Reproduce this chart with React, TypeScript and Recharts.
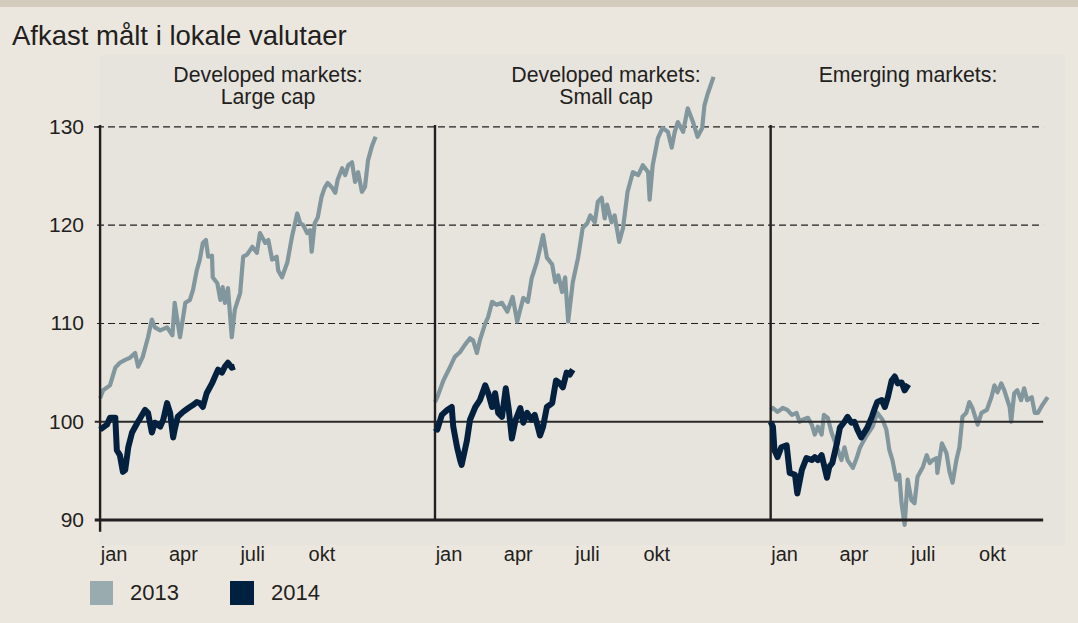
import { LineChart, Line, XAxis, YAxis, ReferenceLine } from 'recharts';

// [day of year, index value]
const largeCap2013: [number, number][] = [
  [0, 102.4], [4, 103.2], [13, 103.7], [20, 105.5], [26, 106], [33, 106.3], [39, 106.5], [46, 107], [50, 105.6], [56, 106.6],
  [63, 108.6], [68, 110.4], [72, 109.6], [79, 109.3], [88, 109.6], [95, 108.8], [98, 112.1], [105, 108.6], [112, 112.1], [118, 112.4],
  [122, 113.4], [127, 115.4], [131, 116.5], [135, 118.2], [139, 118.5], [142, 116.8], [147, 116.9], [148, 114.7], [154, 114.1], [158, 112.4],
  [161, 113.7], [164, 112.1], [168, 113.6], [173, 108.6], [177, 111.4], [184, 113.1], [188, 116.8], [193, 117], [200, 117.8], [206, 117.2],
  [210, 119.2], [217, 118.2], [221, 118.5], [226, 116.5], [232, 116.8], [234, 115.4], [239, 114.7], [246, 116.2], [252, 118.8], [259, 121.2],
  [263, 120.2], [267, 120], [272, 119.2], [276, 119.5], [278, 117.3], [282, 120.2], [286, 120.8], [291, 122.9], [295, 123.8], [299, 124.3],
  [305, 123.8], [309, 123.3], [312, 124.6], [318, 125.8], [322, 125.1], [326, 126.1], [331, 126.4], [335, 124.4], [339, 125.4], [344, 123.4],
  [348, 123.9], [352, 126.6], [357, 128], [362, 129],
];

const largeCap2014: [number, number][] = [
  [0, 99.2], [9, 99.7], [13, 100.4], [20, 100.4], [22, 97.1], [26, 96.6], [30, 94.9], [33, 95.1], [37, 97.4], [42, 98.9],
  [49, 99.9], [53, 100.4], [59, 101.2], [63, 100.9], [68, 98.9], [72, 99.9], [79, 99.5], [83, 100.2], [88, 101.9], [92, 100.9],
  [96, 98.4], [98, 99.2], [102, 100.5], [109, 101], [116, 101.4], [122, 101.7], [127, 102], [131, 101.9], [135, 101.5], [140, 102.9],
  [147, 103.9], [151, 104.6], [155, 105.3], [160, 105], [164, 105.6], [168, 106], [173, 105.5], [177, 105.6],
];

const smallCap2013: [number, number][] = [
  [0, 102], [3, 102.5], [11, 104.2], [20, 105.6], [26, 106.6], [33, 107.1], [39, 107.8], [46, 108.5], [50, 108.3], [55, 107],
  [59, 108.3], [66, 110], [70, 110.7], [75, 112.2], [81, 111.9], [88, 112.1], [95, 111.2], [102, 112.7], [108, 110.2], [116, 112.6],
  [122, 112.2], [127, 114.6], [134, 116.3], [142, 119], [147, 116.7], [154, 116], [158, 114.2], [162, 114.9], [167, 113.2], [171, 114.7],
  [175, 110.2], [181, 114.2], [188, 116.7], [194, 119.7], [200, 120.2], [204, 121], [210, 120.3], [214, 122.4], [219, 122.8], [223, 120.7],
  [226, 122.1], [232, 120.3], [236, 121], [242, 118.3], [247, 119.7], [253, 123.4], [260, 125.4], [267, 125.1], [273, 126.1], [280, 125.4],
  [282, 122.6], [286, 126.1], [293, 128.9], [299, 129.9], [306, 129.5], [311, 127.9], [315, 129.5], [319, 130.5], [326, 129.5], [332, 131.9],
  [339, 130.5], [345, 129], [351, 129.9], [354, 132.2], [358, 133.3], [366, 135.1],
];

const smallCap2014: [number, number][] = [
  [0, 99.4], [3, 99.2], [9, 100.7], [16, 101.2], [22, 101.5], [24, 99.5], [29, 97.4], [33, 96.1], [35, 95.6], [42, 98.1],
  [46, 100.2], [53, 101.5], [59, 102.2], [66, 103.7], [70, 102.9], [75, 101.5], [79, 102.9], [83, 100.9], [88, 100.5], [93, 103.4],
  [97, 101.2], [101, 98.3], [106, 100.2], [112, 101.4], [116, 99.9], [121, 100.9], [127, 100.2], [131, 100.7], [138, 98.6], [142, 99.5],
  [147, 101.5], [154, 101.9], [159, 104.2], [164, 103.9], [168, 103.5], [173, 105], [177, 104.8], [181, 105.3],
];

const emerging2013: [number, number][] = [
  [0, 101.2], [3, 101.4], [9, 101], [16, 101.4], [22, 101.2], [28, 100.7], [34, 100.9], [38, 100], [42, 100.2], [49, 100.4],
  [54, 99.7], [58, 98.7], [62, 99.5], [67, 98.7], [70, 100.7], [75, 100.4], [80, 98.9], [87, 97.4], [93, 96.1], [97, 97.4],
  [101, 96.1], [108, 95.3], [113, 96.3], [117, 97.3], [121, 97.9], [127, 98.7], [134, 99.5], [140, 100.9], [147, 100.2], [152, 99.2],
  [156, 97.1], [160, 96.1], [165, 94.1], [169, 94.6], [172, 91.7], [176, 89.5], [180, 94.1], [185, 92], [189, 91.7], [193, 94.4],
  [200, 95.4], [205, 96.6], [209, 95.8], [213, 96.1], [218, 96.3], [219, 94.8], [225, 97.8], [231, 96.8], [235, 94.9], [239, 93.8],
  [244, 96.1], [248, 97.4], [252, 100.5], [257, 100.9], [261, 102], [265, 101.4], [272, 99.7], [277, 100.9], [284, 101.2], [290, 102.5],
  [294, 103.7], [298, 103], [303, 103.9], [307, 103.2], [314, 101.5], [316, 100], [320, 102.9], [324, 103.2], [329, 102.2], [333, 103.4],
  [337, 102.2], [343, 102.5], [347, 100.9], [351, 100.9], [357, 101.7], [364, 102.5],
];

const emerging2014: [number, number][] = [
  [0, 100], [3, 99.5], [5, 97.1], [9, 96.4], [14, 97.4], [21, 97.6], [25, 94.8], [32, 94.6], [35, 92.7], [41, 95.1],
  [47, 96.3], [54, 96.1], [58, 96.4], [62, 96.1], [67, 96.6], [74, 94.3], [77, 95.4], [81, 95.8], [87, 97.8], [91, 99.4],
  [97, 100], [101, 100.5], [106, 99.9], [110, 100], [114, 99.2], [119, 98.4], [123, 98.9], [127, 99.4], [133, 100.5], [137, 101.4],
  [140, 102], [146, 102.2], [150, 101.5], [154, 102.5], [159, 104.2], [163, 104.6], [167, 103.9], [172, 104], [176, 103.2], [181, 103.8],
];

const panelOffsets = [0, 440, 881];
const panelTitles = [['Developed markets:', 'Large cap'], ['Developed markets:', 'Small cap'], ['Emerging markets:']];
const panelTitleX = [268, 606, 908];
const monthLabels = ['jan', 'apr', 'juli', 'okt'];
const quarterDays = [0, 91, 182, 273];
const yTicks = [90, 100, 110, 120, 130];
const gridValues = [110, 120, 130];

const series2013 = [largeCap2013, smallCap2013, emerging2013];
const series2014 = [largeCap2014, smallCap2014, emerging2014];

const COLOR_2013 = '#82979d';
const COLOR_2014 = '#03213f';
const INK = '#231f20';
const FONT = '"Liberation Sans", Arial, Helvetica, sans-serif';

const toPoints = (rows: [number, number][], offset: number) =>
  rows.map(([d, v]) => ({ x: d + offset, v }));

const xTicks = panelOffsets.flatMap((o) => quarterDays.map((d) => d + o));
const X_START = -4;
const X_END = 1239;

export default function App() {
  return (
    <div style={{ position: 'absolute', left: 0, top: 0, width: 1078, height: 623, background: '#ebe7df', overflow: 'hidden', fontFamily: FONT }}>
      <div style={{ position: 'absolute', left: 0, top: 0, width: 1078, height: 7, background: '#d3ccbd' }} />
      <div style={{ position: 'absolute', left: 100, top: 55, width: 965, height: 490, background: '#e7e4dd' }} />
      <div style={{ position: 'absolute', left: 0, top: 0 }}>
        <LineChart width={1078} height={623} margin={{ top: 68, right: 28, bottom: 53.35, left: 34 }}>
          <XAxis
            dataKey="x"
            type="number"
            domain={[-8, 1248]}
            ticks={xTicks}
            interval={0}
            axisLine={false}
            tickLine={false}
            height={30}
            tick={(p: any) => (
              <text x={p.x + 14} y={561} textAnchor="middle" fontSize={20} fill={INK} fontFamily={FONT}>
                {monthLabels[p.index % 4]}
              </text>
            )}
          />
          <YAxis
            type="number"
            domain={[88, 136]}
            ticks={yTicks}
            interval={0}
            width={60}
            axisLine={false}
            tickLine={false}
            tick={(p: any) => (
              <text x={84} y={p.y + 7} textAnchor="end" fontSize={21} fill={INK} fontFamily={FONT}>
                {p.payload.value}
              </text>
            )}
          />
          {gridValues.map((g) => (
            <ReferenceLine key={`g${g}`} segment={[{ x: X_START, y: g }, { x: X_END, y: g }]} stroke="#1f1f1f" strokeWidth={1.2} strokeDasharray="7 4" />
          ))}
          {series2013.map((s, i) => (
            <Line key={`a${i}`} data={toPoints(s, panelOffsets[i])} dataKey="v" type="linear" dot={false} stroke={COLOR_2013} strokeWidth={4.2} strokeLinejoin="round" isAnimationActive={false} />
          ))}
          <ReferenceLine segment={[{ x: X_START - 3, y: 100 }, { x: X_END, y: 100 }]} stroke="#2a2a2a" strokeWidth={1.8} />
          <ReferenceLine segment={[{ x: X_START - 3, y: 90 }, { x: X_END, y: 90 }]} stroke={INK} strokeWidth={2.8} />
          {panelOffsets.map((o, i) => (
            <ReferenceLine key={`v${i}`} segment={[{ x: o, y: i === 0 ? 88.8 : 90 }, { x: o, y: 130.2 }]} stroke={INK} strokeWidth={2.4} />
          ))}
          <ReferenceLine segment={[{ x: -8, y: 130 }, { x: 0, y: 130 }]} stroke={INK} strokeWidth={1.5} />
          {series2014.map((s, i) => (
            <Line key={`b${i}`} data={toPoints(s, panelOffsets[i])} dataKey="v" type="linear" dot={false} stroke={COLOR_2014} strokeWidth={6} strokeLinejoin="round" isAnimationActive={false} />
          ))}
        </LineChart>
      </div>
      <svg width={1078} height={623} style={{ position: 'absolute', left: 0, top: 0, pointerEvents: 'none' }} fontFamily={FONT}>
        <text x={12} y={45} fontSize={27.5} fill={INK}>Afkast målt i lokale valutaer</text>
        {panelTitles.map((lines, i) =>
          lines.map((t, j) => (
            <text key={`t${i}${j}`} x={panelTitleX[i]} y={82 + j * 22} textAnchor="middle" fontSize={21.3} fill={INK}>{t}</text>
          ))
        )}
        <rect x={90} y={581} width={23} height={24} fill="#9aabb0" />
        <text x={130} y={600} fontSize={22} fill={INK}>2013</text>
        <rect x={230} y={581} width={24} height={24} fill="#00203f" />
        <text x={271} y={600} fontSize={22} fill={INK}>2014</text>
      </svg>
    </div>
  );
}
